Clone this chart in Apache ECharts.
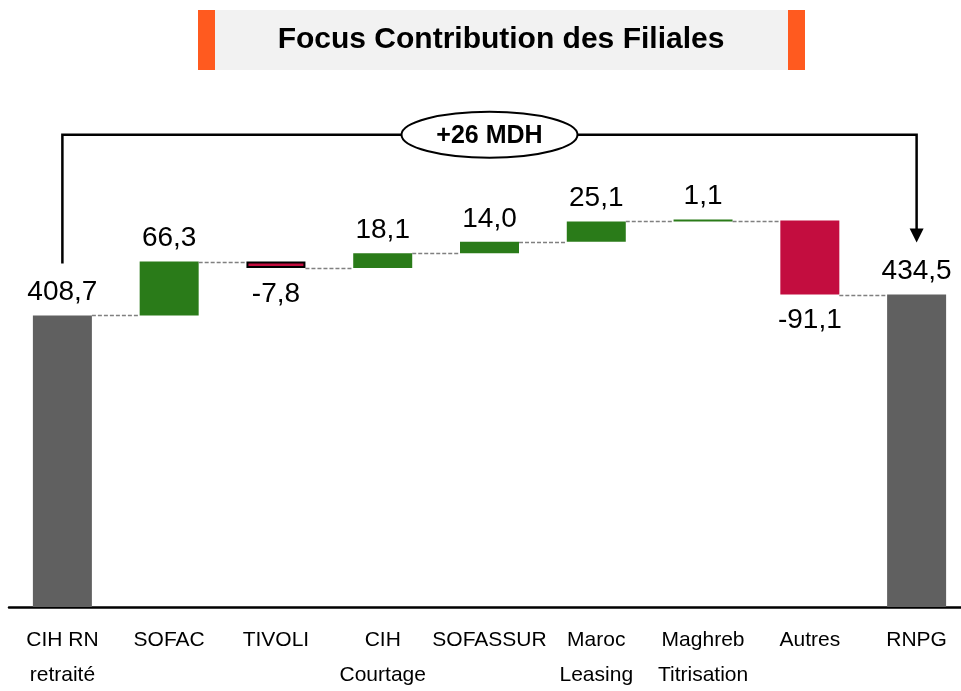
<!DOCTYPE html>
<html>
<head>
<meta charset="utf-8">
<script src="https://cdn.jsdelivr.net/npm/echarts@6/dist/echarts.min.js"></script>
<style>
  html, body { margin: 0; padding: 0; background: #fff; }
  #chart { width: 961px; height: 691px; }
</style>
</head>
<body>
<div id="chart"></div>
<script>
// data
const categories = ['CIH RN\nretraité', 'SOFAC', 'TIVOLI', 'CIH\nCourtage', 'SOFASSUR', 'Maroc\nLeasing', 'Maghreb\nTitrisation', 'Autres', 'RNPG'];
const deltas = [408.7, 66.3, -7.8, 18.1, 14.0, 25.1, 1.1, -91.1, 434.5];
const isTotal = [true, false, false, false, false, false, false, false, true];
const titleText = 'Focus Contribution des Filiales';
const bracketText = '+26 MDH';

const COL_TOTAL = '#606060';
const COL_UP = '#2A7B19';
const COL_DOWN = '#C30D3F';
const FONT = "'Liberation Sans', Arial, sans-serif";
const BAR_W = 59;

// waterfall: invisible base + visible part
const base = [];
const visible = [];
const runEnd = [];
let run = 0;
deltas.forEach((d, i) => {
  if (isTotal[i]) {
    base.push(0);
    run = d;
  } else {
    const start = run;
    run = run + d;
    base.push(Math.min(start, run));
  }
  runEnd.push(run);
  const item = {
    value: Math.abs(d),
    itemStyle: { color: isTotal[i] ? COL_TOTAL : (d < 0 ? COL_DOWN : COL_UP) },
    label: d < 0 ? { position: 'bottom', distance: 12 } : { position: 'top', distance: 9 }
  };
  if (categories[i] === 'TIVOLI') {
    item.itemStyle.borderColor = '#000';
    item.itemStyle.borderWidth = 2;
  }
  visible.push(item);
});

// connectors between bars
const links = [];
for (let i = 0; i < deltas.length - 1; i++) links.push([i, runEnd[i]]);

const fmt = v => v.toFixed(1).replace('.', ',');

const chart = echarts.init(document.getElementById('chart'));
chart.setOption({
  animation: false,
  grid: { left: 9, width: 961, top: 160, bottom: 84, outerBoundsMode: 'none' },
  xAxis: {
    type: 'category',
    data: categories,
    axisLine: { lineStyle: { color: '#000', width: 2.5 } },
    axisTick: { show: false },
    axisLabel: {
      interval: 0,
      color: '#000',
      fontFamily: FONT,
      fontSize: 21,
      lineHeight: 35,
      margin: 16
    }
  },
  yAxis: { type: 'value', min: 50, max: 600, show: false, splitLine: { show: false } },
  series: [
    {
      type: 'bar',
      stack: 'w',
      barWidth: BAR_W,
      itemStyle: { color: 'transparent' },
      emphasis: { disabled: true },
      data: base
    },
    {
      type: 'bar',
      stack: 'w',
      barWidth: BAR_W,
      barMinHeight: 2,
      data: visible,
      label: {
        show: true,
        color: '#000',
        fontFamily: FONT,
        fontSize: 28,
        formatter: p => fmt(deltas[p.dataIndex])
      }
    },
    {
      type: 'custom',
      data: links,
      z: 3,
      renderItem: (params, api) => {
        const i = api.value(0);
        const v = api.value(1);
        const a = api.coord([i, v]);
        const b = api.coord([i + 1, v]);
        const y = Math.round(a[1]) + 0.5;
        return {
          type: 'line',
          shape: { x1: a[0] + BAR_W / 2, y1: y, x2: b[0] - BAR_W / 2, y2: y },
          style: { stroke: '#808080', lineWidth: 1.5, lineDash: [4, 2] }
        };
      }
    }
  ]
});

// title box + bracket annotation
const first = chart.convertToPixel({ gridIndex: 0 }, [0, deltas[0]]);
const last = chart.convertToPixel({ gridIndex: 0 }, [deltas.length - 1, deltas[deltas.length - 1]]);
const by = chart.convertToPixel({ gridIndex: 0 }, [0, 631])[1];
const yL = first[1] - 52;
const yR = last[1] - 52;
const midX = (first[0] + last[0]) / 2;

chart.setOption({
  graphic: [
    { type: 'rect', shape: { x: 215, y: 10, width: 573, height: 60 }, style: { fill: '#F2F2F2' } },
    { type: 'rect', shape: { x: 198, y: 10, width: 17, height: 60 }, style: { fill: '#FF5A1F' } },
    { type: 'rect', shape: { x: 788, y: 10, width: 17, height: 60 }, style: { fill: '#FF5A1F' } },
    {
      type: 'text', x: 501, y: 40,
      style: { text: titleText, font: "bold 30px 'Liberation Sans', Arial, sans-serif", fill: '#000', align: 'center', verticalAlign: 'middle' }
    },
    {
      type: 'polyline',
      shape: { points: [[first[0], yL], [first[0], by], [last[0], by], [last[0], yR - 13]] },
      style: { stroke: '#000', lineWidth: 2.5, fill: null }
    },
    {
      type: 'polygon',
      shape: { points: [[last[0] - 7, yR - 14], [last[0] + 7, yR - 14], [last[0], yR]] },
      style: { fill: '#000' }
    },
    {
      type: 'ellipse',
      shape: { cx: midX, cy: by, rx: 88, ry: 23 },
      style: { fill: '#fff', stroke: '#000', lineWidth: 2 }
    },
    {
      type: 'text', x: midX, y: by + 1,
      style: { text: bracketText, font: "bold 25px 'Liberation Sans', Arial, sans-serif", fill: '#000', align: 'center', verticalAlign: 'middle' }
    }
  ]
});
</script>
</body>
</html>
